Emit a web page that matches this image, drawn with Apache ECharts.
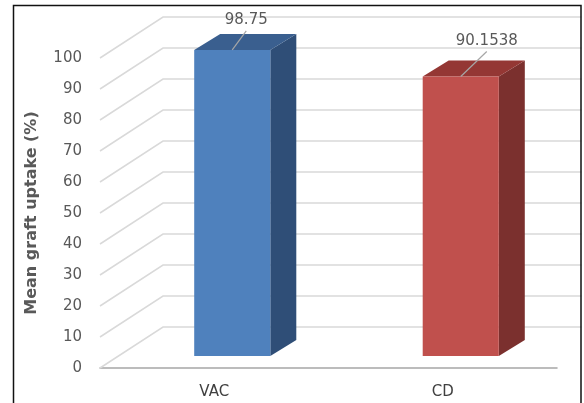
<!DOCTYPE html>
<html>
<head>
<meta charset="utf-8">
<script src="https://cdn.jsdelivr.net/npm/echarts@6/dist/echarts.min.js"></script>
<style>
  html, body { margin: 0; padding: 0; background: #fff; }
  #chart { width: 584px; height: 403px; }
</style>
</head>
<body>
<div id="chart"></div>
<script>
// Mean graft uptake by dressing method
const categories = ['VAC', 'CD'];
const uptake = [98.75, 90.1538];
const valueLabels = ['98.75', '90.1538'];
const yTicks = [0, 10, 20, 30, 40, 50, 60, 70, 80, 90, 100];

// Oblique 3D projection: full floor depth, bar placement inside the depth
const DEPTH = [63, -41];
const BAR_FRONT = [18, -12];
const BAR_DEPTH = [26, -16];
const FRONT_COLORS = ['#4f81bd', '#c0504d'];
const TOP_COLORS = ['#3a5f8f', '#943734'];
const SIDE_COLORS = ['#2f4e77', '#7b302e'];
const LEADER = [[14, -19], [26, -25]];

const FONT = 'DejaVu Sans';

const chart = echarts.init(document.getElementById('chart'), null, { renderer: 'canvas' });

function renderWall(params, api) {
  const v = api.value(1);
  const cs = params.coordSys;
  const y = api.coord([0, v])[1];
  const x0 = cs.x;
  return {
    type: 'polyline',
    shape: {
      points: [
        [x0, y],
        [x0 + DEPTH[0], y + DEPTH[1]],
        [x0 + cs.width + DEPTH[0] + 40, y + DEPTH[1]]
      ]
    },
    style: { stroke: '#d9d9d9', lineWidth: 1.5, fill: null }
  };
}

function renderBar(params, api) {
  const i = api.value(0);
  const v = api.value(1);
  const base = api.coord([i, 0]);
  const top = api.coord([i, v]);
  const bw = api.size([1, 0])[0] * 0.333;
  const cx = base[0] + BAR_FRONT[0];
  const L = cx - bw / 2, R = cx + bw / 2;
  const T = top[1] + BAR_FRONT[1], B = base[1] + BAR_FRONT[1];
  const dx = BAR_DEPTH[0], dy = BAR_DEPTH[1];
  const lead = LEADER[i];
  const lx = cx + lead[0], ly = T + lead[1];
  return {
    type: 'group',
    children: [
      {
        type: 'polygon',
        shape: { points: [[R, T], [R + dx, T + dy], [R + dx, B + dy], [R, B]] },
        style: { fill: SIDE_COLORS[i] }
      },
      {
        type: 'polygon',
        shape: { points: [[L, T], [R, T], [R + dx, T + dy], [L + dx, T + dy]] },
        style: { fill: TOP_COLORS[i] }
      },
      {
        type: 'rect',
        shape: { x: L, y: T, width: R - L, height: B - T },
        style: { fill: FRONT_COLORS[i] }
      },
      {
        type: 'line',
        shape: { x1: cx, y1: T, x2: lx, y2: ly },
        style: { stroke: '#a6a6a6', lineWidth: 1.2 }
      },
      {
        type: 'text',
        style: {
          x: lx, y: ly - 3,
          text: valueLabels[i],
          fill: '#595959',
          font: '15px "' + FONT + '"',
          align: 'center',
          verticalAlign: 'bottom'
        }
      }
    ]
  };
}

chart.setOption({
  animation: false,
  backgroundColor: '#ffffff',
  grid: { left: 100, right: 27, top: 58, bottom: 35 },
  xAxis: {
    type: 'category',
    data: categories,
    axisLine: { show: true, lineStyle: { color: '#a6a6a6', width: 1.5 } },
    axisTick: { show: false },
    axisLabel: { color: '#404040', fontFamily: FONT, fontSize: 15, margin: 17 },
    splitLine: { show: false }
  },
  yAxis: {
    type: 'value',
    min: 0,
    max: 100,
    interval: 10,
    name: 'Mean graft uptake (%)',
    nameLocation: 'middle',
    nameGap: 60,
    nameTextStyle: { color: '#595959', fontFamily: FONT, fontSize: 16, fontWeight: 'bold' },
    axisLine: { show: false },
    axisTick: { show: false },
    axisLabel: { color: '#595959', fontFamily: FONT, fontSize: 15, margin: 18 },
    splitLine: { show: false }
  },
  series: [
    {
      type: 'custom',
      renderItem: renderWall,
      data: yTicks.map(function (t) { return [0, t]; }),
      z: 1,
      silent: true
    },
    {
      type: 'custom',
      renderItem: renderBar,
      data: uptake.map(function (v, i) { return [i, v]; }),
      z: 3,
      silent: true
    }
  ],
  graphic: [
    {
      type: 'rect',
      z: 100,
      shape: { x: 581.5, y: 0, width: 10, height: 403 },
      style: { fill: '#ffffff' }
    },
    {
      type: 'rect',
      z: 101,
      shape: { x: 13.5, y: 5.5, width: 567.5, height: 420 },
      style: { fill: null, stroke: '#111111', lineWidth: 1.5 }
    }
  ]
});
</script>
</body>
</html>
